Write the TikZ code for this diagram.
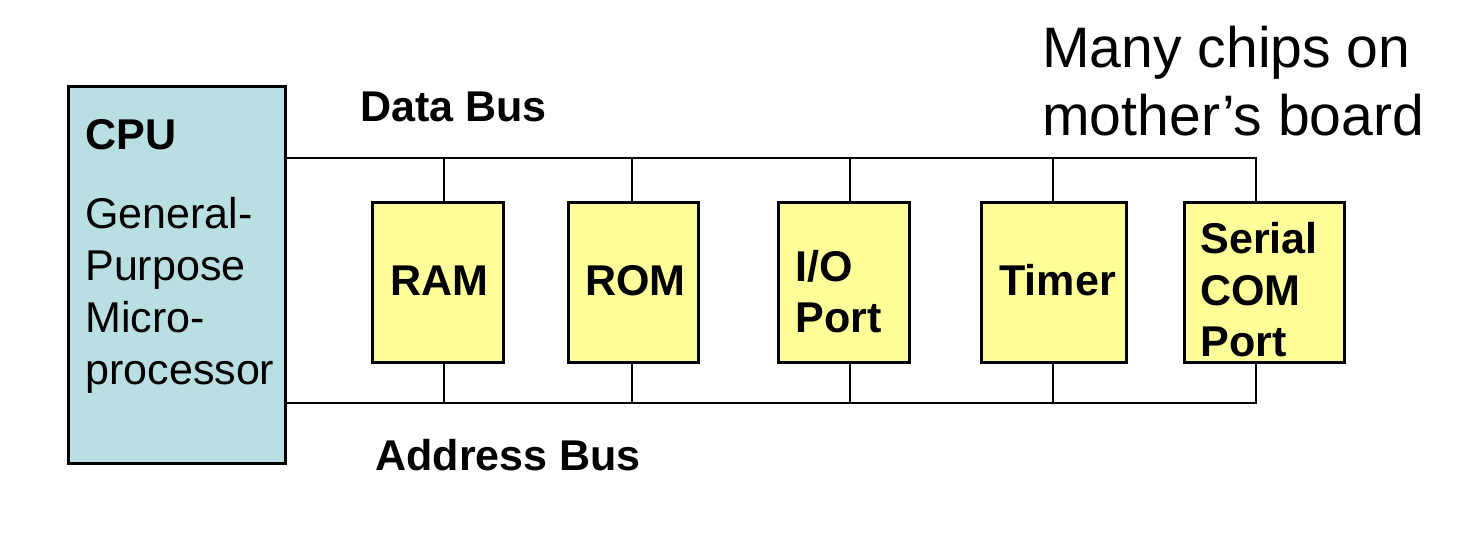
\documentclass[tikz,border=0pt]{standalone}
\usepackage{fontspec}
\setmainfont{Liberation Sans}
\definecolor{cputeal}{RGB}{185,223,227}
\definecolor{chipyellow}{RGB}{255,255,153}
\tikzset{
  bus/.style={line width=1.6pt},
  chip/.style={draw, line width=1.6pt, fill=chipyellow, anchor=north west, minimum height=3.2cm, inner sep=0pt},
  lbl/.style={font=\fontsize{24.5}{29.5}\selectfont\bfseries, align=left, inner sep=0pt, anchor=base west},
  txt/.style={font=\fontsize{24.5}{29.5}\selectfont, align=left, inner sep=0pt, anchor=base west},
}
\begin{document}
\begin{tikzpicture}[x=0.02cm, y=-0.02cm]
\useasboundingbox (0,0) rectangle (1463,540);

% processor
\node[draw, line width=1.6pt, fill=cputeal, anchor=north west, minimum width=4.34cm, minimum height=7.54cm, inner sep=0pt] (cpu) at (67,85) {};
\node[lbl] (cpu-title) at (85,150) {CPU};
\node[txt] (cpu-text) at (85,384) {General-\\Purpose\\Micro-\\processor};

% chips
\node[chip, minimum width=2.62cm] (ram) at (371,201) {};
\node[chip, minimum width=2.6cm] (rom) at (567,201) {};
\node[chip, minimum width=2.62cm] (io) at (777,201) {};
\node[chip, minimum width=2.9cm] (tim) at (980,201) {};
\node[chip, minimum width=3.2cm] (ser) at (1183,201) {};
\node[lbl] (ram-lbl) at (390,296) {RAM};
\node[lbl] (rom-lbl) at (585,296) {ROM};
\node[lbl] (io-lbl) at (795,333) {I/O\\Port};
\node[lbl] (tim-lbl) at (999,296) {Timer};
\node[lbl] (ser-lbl) at (1200,357) {Serial\\COM\\Port};

% buses
\coordinate (dend) at (1256,158);
\coordinate (aend) at (1256,403);
\draw[bus] (cpu.east |- dend) -- (dend) -- (ser.north -| dend);
\draw[bus] (cpu.east |- aend) -- (aend) -- (ser.south -| aend);
\foreach \c/\x in {ram/444, rom/632, io/850, tim/1053} {
  \draw[bus] (\x,158) -- (\c.north -| \x,0);
  \draw[bus] (\x,403) -- (\c.south -| \x,0);
}

\node[lbl] (dbus-lbl) at (360,122) {Data Bus};
\node[lbl] (abus-lbl) at (375,470) {Address Bus};
\node[font=\fontsize{32.5}{39}\selectfont, align=left, inner sep=0pt, anchor=base west] (note) at (1042,136) {Many chips on\\mother's board};
\end{tikzpicture}
\end{document}
